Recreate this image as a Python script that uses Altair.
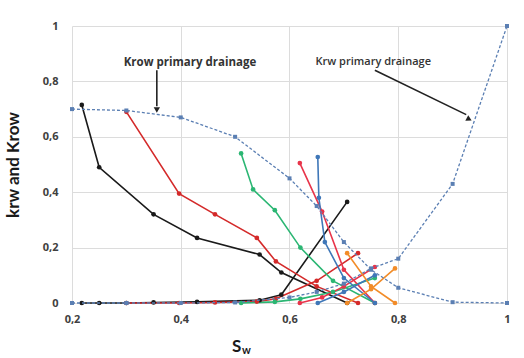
import altair as alt
import pandas as pd

# Primary drainage curves (dashed)
primary_sw = [0.2, 0.3, 0.4, 0.5, 0.6, 0.65, 0.7, 0.75, 0.8, 0.9, 1.0]
primary_krow = [0.70, 0.695, 0.67, 0.60, 0.45, 0.35, 0.22, 0.12, 0.055, 0.003, 0.0]
primary_krw = [0.0, 0.0, 0.0, 0.002, 0.02, 0.04, 0.07, 0.125, 0.16, 0.43, 1.0]

# Imbibition curve groups
groups = ["black", "red", "green", "crimson", "blue", "orange"]
colors = ["#1a1a1a", "#d42a2a", "#2bb673", "#e8344a", "#3f77b8", "#f28c28"]

black_krow_sw = [0.218, 0.25, 0.35, 0.43, 0.545, 0.585, 0.706]
black_krow = [0.715, 0.49, 0.32, 0.235, 0.175, 0.11, 0.0]
black_krw_sw = [0.218, 0.25, 0.30, 0.35, 0.43, 0.545, 0.585, 0.706]
black_krw = [0.0, 0.0, 0.0, 0.002, 0.004, 0.01, 0.03, 0.365]

red_krow_sw = [0.30, 0.397, 0.463, 0.54, 0.575, 0.65, 0.726]
red_krow = [0.69, 0.395, 0.32, 0.235, 0.15, 0.06, 0.0]
red_krw_sw = [0.30, 0.397, 0.463, 0.54, 0.575, 0.65, 0.726]
red_krw = [0.0, 0.0, 0.002, 0.005, 0.015, 0.08, 0.18]

green_krow_sw = [0.511, 0.533, 0.573, 0.62, 0.68, 0.757]
green_krow = [0.54, 0.41, 0.335, 0.20, 0.08, 0.0]
green_krw_sw = [0.511, 0.573, 0.62, 0.68, 0.757]
green_krw = [0.0, 0.004, 0.015, 0.04, 0.09]

crimson_krow_sw = [0.619, 0.66, 0.70, 0.757]
crimson_krow = [0.505, 0.33, 0.12, 0.0]
crimson_krw_sw = [0.619, 0.66, 0.70, 0.757]
crimson_krw = [0.0, 0.02, 0.06, 0.13]

blue_krow_sw = [0.652, 0.654, 0.665, 0.70, 0.757]
blue_krow = [0.527, 0.38, 0.22, 0.09, 0.0]
blue_krw_sw = [0.652, 0.70, 0.757]
blue_krw = [0.0, 0.04, 0.10]

orange_krow_sw = [0.706, 0.75, 0.794]
orange_krow = [0.18, 0.06, 0.0]
orange_krw_sw = [0.706, 0.75, 0.794]
orange_krw = [0.0, 0.05, 0.125]

series = {
    "black": (black_krow_sw, black_krow, black_krw_sw, black_krw),
    "red": (red_krow_sw, red_krow, red_krw_sw, red_krw),
    "green": (green_krow_sw, green_krow, green_krw_sw, green_krw),
    "crimson": (crimson_krow_sw, crimson_krow, crimson_krw_sw, crimson_krw),
    "blue": (blue_krow_sw, blue_krow, blue_krw_sw, blue_krw),
    "orange": (orange_krow_sw, orange_krow, orange_krw_sw, orange_krw),
}

rows = []
for g, (s1, k1, s2, k2) in series.items():
    for s, k in zip(s1, k1):
        rows.append({"sw": s, "k": k, "group": g, "curve": g + "_krow"})
    for s, k in zip(s2, k2):
        rows.append({"sw": s, "k": k, "group": g, "curve": g + "_krw"})
imb = pd.DataFrame(rows)

prim_rows = []
for s, k in zip(primary_sw, primary_krow):
    prim_rows.append({"sw": s, "k": k, "curve": "krow"})
for s, k in zip(primary_sw, primary_krw):
    prim_rows.append({"sw": s, "k": k, "curve": "krw"})
prim = pd.DataFrame(prim_rows)

label_expr = "replace(datum.label, '.', ',')"
xscale = alt.Scale(domain=[0.2, 1.0], nice=False, zero=False)
yscale = alt.Scale(domain=[0, 1], nice=False)

x_enc = alt.X("sw:Q", scale=xscale,
              axis=alt.Axis(values=[0.2, 0.4, 0.6, 0.8, 1.0], format=".1~f", labelExpr=label_expr,
                            title=None, grid=True, gridColor="#dcdcdc", domain=False, ticks=False,
                            labelFontWeight="bold", labelFontSize=11, labelColor="#404040",
                            labelPadding=10, labelFont="Open Sans", labelFlush=False))
y_enc = alt.Y("k:Q", scale=yscale,
              axis=alt.Axis(values=[0, 0.2, 0.4, 0.6, 0.8, 1.0], format=".1~f", labelExpr=label_expr,
                            title="krw and Krow", titleFontSize=17, titleFontWeight="bold",
                            titleColor="#1a1a1a", titlePadding=20, titleFont="Lato",
                            grid=True, gridColor="#dcdcdc", domain=False, ticks=False,
                            labelFontWeight="bold", labelFontSize=11, labelColor="#404040",
                            labelPadding=14, labelFont="Open Sans", labelFlush=False))

color_scale = alt.Scale(domain=groups, range=colors)

imb_lines = alt.Chart(imb).mark_line(strokeWidth=1.6).encode(
    x=x_enc, y=y_enc,
    color=alt.Color("group:N", scale=color_scale, legend=None),
    detail="curve:N",
)
imb_pts = alt.Chart(imb).mark_point(filled=True, size=22, opacity=1).encode(
    x="sw:Q", y="k:Q",
    color=alt.Color("group:N", scale=color_scale, legend=None),
)

prim_lines = alt.Chart(prim).mark_line(strokeWidth=1.3, strokeDash=[3, 2], color="#5b7fb3").encode(
    x="sw:Q", y="k:Q", detail="curve:N"
)
prim_pts = alt.Chart(prim).mark_point(filled=True, shape="square", size=16, color="#5b7fb3", opacity=1).encode(
    x="sw:Q", y="k:Q"
)

# Annotations
ann_sw = [0.417, 0.754]
ann_k = [0.866, 0.87]
ann_labels = ["Krow primary drainage", "Krw primary drainage"]
ann_text = pd.DataFrame({"sw": ann_sw, "k": ann_k, "label": ann_labels})
texts_bold = alt.Chart(ann_text.iloc[[0]]).mark_text(
    fontSize=11.5, fontWeight="bold", color="#333333", font="Open Sans"
).encode(x="sw:Q", y="k:Q", text="label:N")
texts_norm = alt.Chart(ann_text.iloc[[1]]).mark_text(
    fontSize=11, fontWeight=600, color="#333333", font="Open Sans"
).encode(x="sw:Q", y="k:Q", text="label:N")

arrow_lines = pd.DataFrame({
    "sw": [0.356, 0.757], "k": [0.84, 0.84],
    "sw2": [0.356, 0.925], "k2": [0.71, 0.68],
})
arrows = alt.Chart(arrow_lines).mark_rule(color="#222222", strokeWidth=1.6).encode(
    x="sw:Q", y="k:Q", x2="sw2:Q", y2="k2:Q"
)
heads = pd.DataFrame({"sw": [0.356, 0.929], "k": [0.70, 0.665], "ang": [180, 117]})
arrow_heads = alt.Chart(heads).mark_point(shape="triangle", filled=True, size=40, color="#222222", opacity=1).encode(
    x="sw:Q", y="k:Q", angle=alt.Angle("ang:Q", scale=None)
)

sub_s = alt.Chart(pd.DataFrame({"t": ["S"]})).mark_text(
    fontSize=17, fontWeight="bold", color="#1a1a1a", font="Lato", align="left"
).encode(text="t:N", x=alt.value(160), y=alt.value(321))
sub_w = alt.Chart(pd.DataFrame({"t": ["w"]})).mark_text(
    fontSize=11, fontWeight="bold", color="#1a1a1a", font="Lato", align="left"
).encode(text="t:N", x=alt.value(170), y=alt.value(325))

chart = alt.layer(
    imb_lines, imb_pts, prim_lines, prim_pts, texts_bold, texts_norm, arrows, arrow_heads, sub_s, sub_w
).properties(
    width=435, height=277,
    autosize=alt.AutoSizeParams(type="none"),
    padding={"left": 72, "top": 26, "right": 17, "bottom": 55},
    background="white",
).configure_view(stroke=None)

chart.save("out.html", embed_options={"renderer": "svg", "actions": False})
